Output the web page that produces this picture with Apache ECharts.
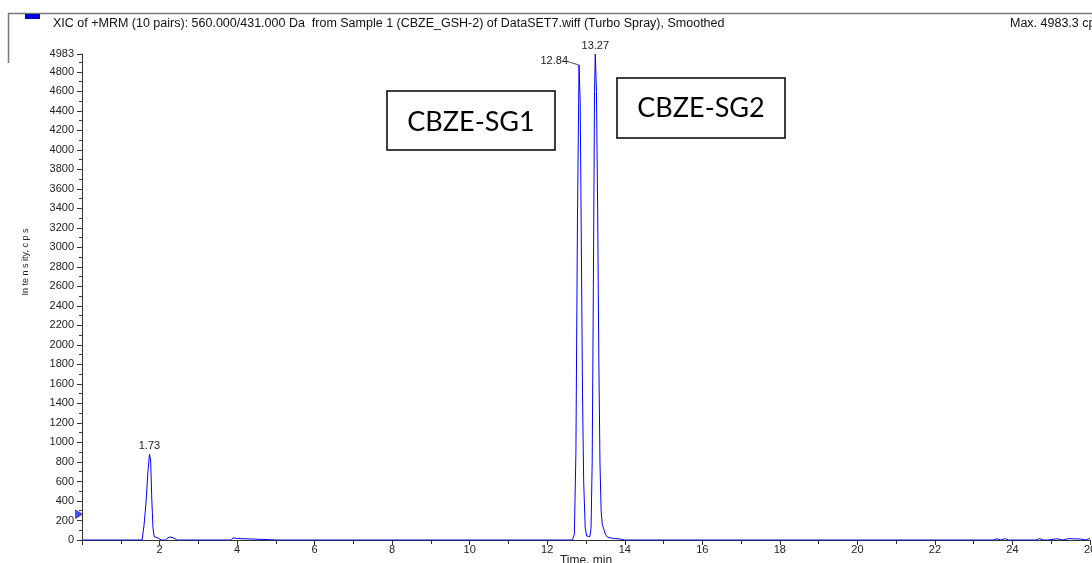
<!DOCTYPE html>
<html>
<head>
<meta charset="utf-8">
<script src="https://cdn.jsdelivr.net/npm/echarts@6/dist/echarts.min.js"></script>
<style>
  html, body { margin: 0; padding: 0; background: #fff; overflow: hidden; }
  #chart { width: 1092px; height: 563px; }
</style>
</head>
<body>
<div id="chart"></div>
<script>
  // chromatogram trace (time in min, intensity in cps)
  var times = [
    0, 0.45, 0.5, 0.55, 1.55, 1.6, 1.65, 1.7, 1.74, 1.77, 1.8, 1.83, 1.86, 1.9, 1.95, 2.0, 2.05,
    2.15, 2.2, 2.25, 2.3, 2.35, 2.4, 2.45, 2.65, 2.7, 2.75, 3.85, 3.9, 3.95, 4.0, 4.05, 4.1, 4.15,
    5.05, 5.1, 5.15, 6.95, 7.0, 7.05, 7.35, 7.4, 7.45, 10.45, 10.5, 10.55, 10.6, 10.7, 10.75, 10.85,
    10.9, 10.95, 11.25, 11.3, 11.35, 11.45, 11.5, 11.55, 11.7, 11.75, 11.8, 12.15, 12.2, 12.25,
    12.65, 12.7, 12.74, 12.78, 12.82, 12.85, 12.88, 12.91, 12.94, 12.98, 13.02, 13.06, 13.1, 13.13,
    13.16, 13.19, 13.22, 13.24, 13.27, 13.3, 13.33, 13.36, 13.39, 13.42, 13.46, 13.5, 13.55, 13.6,
    13.65, 13.7, 13.75, 13.8, 13.85, 14.0, 14.05, 14.1, 14.55, 14.6, 14.65, 15.25, 15.3, 15.35,
    16.65, 16.7, 16.75, 16.95, 17.0, 17.05, 17.25, 17.3, 17.35, 18.35, 18.4, 18.45, 18.85, 18.9,
    18.95, 19.55, 19.6, 19.65, 20.15, 20.2, 20.25, 22.75, 22.8, 22.85, 23.35, 23.4, 23.5, 23.6,
    23.7, 23.8, 23.9, 24.15, 24.2, 24.25, 24.45, 24.5, 24.6, 24.7, 24.8, 24.9, 25.15, 25.2, 25.3,
    25.45, 25.5, 25.6, 25.75, 25.8, 25.9, 26.0
  ];
  var intensity = [
    0, 0, 12, 0, 0, 150, 380, 700, 880, 820, 420, 130, 35, 28, 22, 10, 0,
    0, 12, 32, 18, 24, 6, 0, 0, 16, 0, 0, 22, 8, 16, 10, 14, 0,
    0, 10, 0, 0, 9, 0, 0, 8, 0, 0, 10, 0, 12, 0, 10, 0,
    12, 0, 0, 10, 0, 0, 12, 0, 0, 9, 0, 0, 8, 0,
    0, 60, 900, 3300, 4870, 4500, 3000, 1500, 600, 120, 40, 30, 35, 120,
    800, 2600, 4600, 4983, 4600, 3400, 1900, 800, 300, 160, 110, 60, 30, 12,
    20, 8, 14, 6, 12, 0, 12, 0, 0, 10, 0, 0, 16, 0,
    0, 8, 0, 0, 9, 0, 0, 8, 0, 0, 8, 0, 0, 10,
    0, 0, 8, 0, 0, 12, 0, 0, 10, 0, 0, 14, 0, 12,
    0, 14, 0, 0, 10, 0, 0, 12, 0, 14, 0, 0, 12, 0,
    0, 14, 0, 12, 10, 16, 0, 18
  ];

  // apex labels
  var peakTimes = [1.74, 12.82, 13.24];
  var peakHeights = [880, 4870, 4983];
  var peakTexts = ['1.73', '12.84', '13.27'];

  // axis settings
  var xMin = 0, xMax = 26, xStep = 2;
  var yMin = 0, yMax = 4983, yStep = 200;

  // marker on the y axis
  var yMarker = [[0, 265]];

  var titleText = 'XIC of +MRM (10 pairs): 560.000/431.000 Da  from Sample 1 (CBZE_GSH-2) of DataSET7.wiff (Turbo Spray), Smoothed';
  var maxText = 'Max. 4983.3 cps.';
  var boxTexts = ['CBZE-SG1', 'CBZE-SG2'];

  var chart = echarts.init(document.getElementById('chart'), null, { renderer: 'canvas' });

  var font = 'Liberation Sans, Arial, sans-serif';
  var tickFont = { fontFamily: font, fontSize: 11, color: '#222' };

  var markData = peakTimes.map(function(t, i) {
    var item = { name: peakTexts[i], coord: [t, peakHeights[i]] };
    if (peakTexts[i] === '12.84') {
      item.label = { position: 'left', distance: 11, offset: [0, -4] };
    }
    return item;
  });

  var option = {
    animation: false,
    backgroundColor: '#fff',
    grid: { left: 82, right: 2, top: 54, bottom: 23, containLabel: false, outerBoundsMode: 'none' },
    xAxis: {
      type: 'value',
      min: xMin,
      max: xMax,
      interval: xStep,
      name: 'Time, min',
      nameLocation: 'middle',
      nameGap: 15,
      nameMoveOverlap: false,
      nameTextStyle: { fontFamily: font, fontSize: 12, color: '#222', verticalAlign: 'top' },
      axisLine: { lineStyle: { color: '#333', width: 1 } },
      axisTick: { show: true, inside: false, length: 5, lineStyle: { color: '#333' } },
      minorTick: { show: true, splitNumber: 2, length: 4, lineStyle: { color: '#333' } },
      axisLabel: Object.assign({ margin: 4, showMinLabel: false }, tickFont),
      splitLine: { show: false }
    },
    yAxis: {
      type: 'value',
      min: yMin,
      max: yMax,
      interval: yStep,
      axisLine: { show: true, lineStyle: { color: '#333', width: 1 } },
      axisTick: { show: true, inside: false, length: 5, lineStyle: { color: '#333' } },
      minorTick: { show: true, splitNumber: 2, length: 3, lineStyle: { color: '#333' } },
      axisLabel: Object.assign({ margin: 8, formatter: function(v) { return String(v); } }, tickFont),
      splitLine: { show: false }
    },
    series: [
      {
        type: 'line',
        data: times.map(function(t, i) { return [t, intensity[i]]; }),
        showSymbol: false,
        symbol: 'none',
        lineStyle: { color: '#0000ff', width: 1 },
        itemStyle: { color: '#0000ff' },
        z: 3,
        markPoint: {
          symbol: 'circle',
          symbolSize: 0,
          silent: true,
          label: {
            show: true,
            position: 'top',
            distance: 3,
            formatter: function(p) { return p.name; },
            fontFamily: font,
            fontSize: 11,
            color: '#222'
          },
          data: markData
        },
        markLine: {
          silent: true,
          symbol: 'none',
          label: { show: false },
          lineStyle: { color: '#222', width: 0.8, type: 'solid' },
          data: [[{ coord: [12.53, 4905] }, { coord: [12.82, 4870] }]]
        }
      },
      {
        type: 'scatter',
        data: yMarker,
        symbol: 'triangle',
        symbolSize: [9, 7],
        symbolRotate: -90,
        symbolOffset: [-3, 0],
        clip: false,
        itemStyle: { color: '#1a1aff', borderColor: '#000', borderWidth: 0.5 },
        z: 5
      }
    ],
    graphic: [
      { type: 'line', shape: { x1: 8, y1: 13.5, x2: 1092, y2: 13.5 }, style: { stroke: '#777', lineWidth: 1.5 } },
      { type: 'line', shape: { x1: 8.5, y1: 13, x2: 8.5, y2: 63 }, style: { stroke: '#777', lineWidth: 1.5 } },
      { type: 'rect', shape: { x: 25, y: 14, width: 15, height: 5 }, style: { fill: '#0000dd' } },
      {
        type: 'text', x: 53, y: 24,
        style: { text: titleText, fontFamily: font, fontSize: 12.5, fill: '#111', textVerticalAlign: 'middle' }
      },
      {
        type: 'text', x: 1010, y: 24,
        style: { text: maxText, fontFamily: font, fontSize: 12.5, fill: '#111', textVerticalAlign: 'middle' }
      },
      {
        type: 'text', x: 26, y: 262, rotation: Math.PI / 2,
        style: { text: 'In te n s ity, c p s', fontFamily: font, fontSize: 9, fill: '#222', textAlign: 'center', textVerticalAlign: 'middle' }
      },
      { type: 'rect', shape: { x: 387, y: 91, width: 168, height: 59 }, style: { fill: '#fff', stroke: '#000', lineWidth: 1.5 }, z: 10 },
      {
        type: 'text', x: 471, y: 122, z: 11,
        style: { text: boxTexts[0], fontFamily: 'Lato, sans-serif', fontSize: 27, fill: '#000', textAlign: 'center', textVerticalAlign: 'middle' }
      },
      { type: 'rect', shape: { x: 617, y: 78, width: 168, height: 60 }, style: { fill: '#fff', stroke: '#000', lineWidth: 1.5 }, z: 10 },
      {
        type: 'text', x: 701, y: 108, z: 11,
        style: { text: boxTexts[1], fontFamily: 'Lato, sans-serif', fontSize: 27, fill: '#000', textAlign: 'center', textVerticalAlign: 'middle' }
      }
    ]
  };

  chart.setOption(option);
</script>
</body>
</html>
